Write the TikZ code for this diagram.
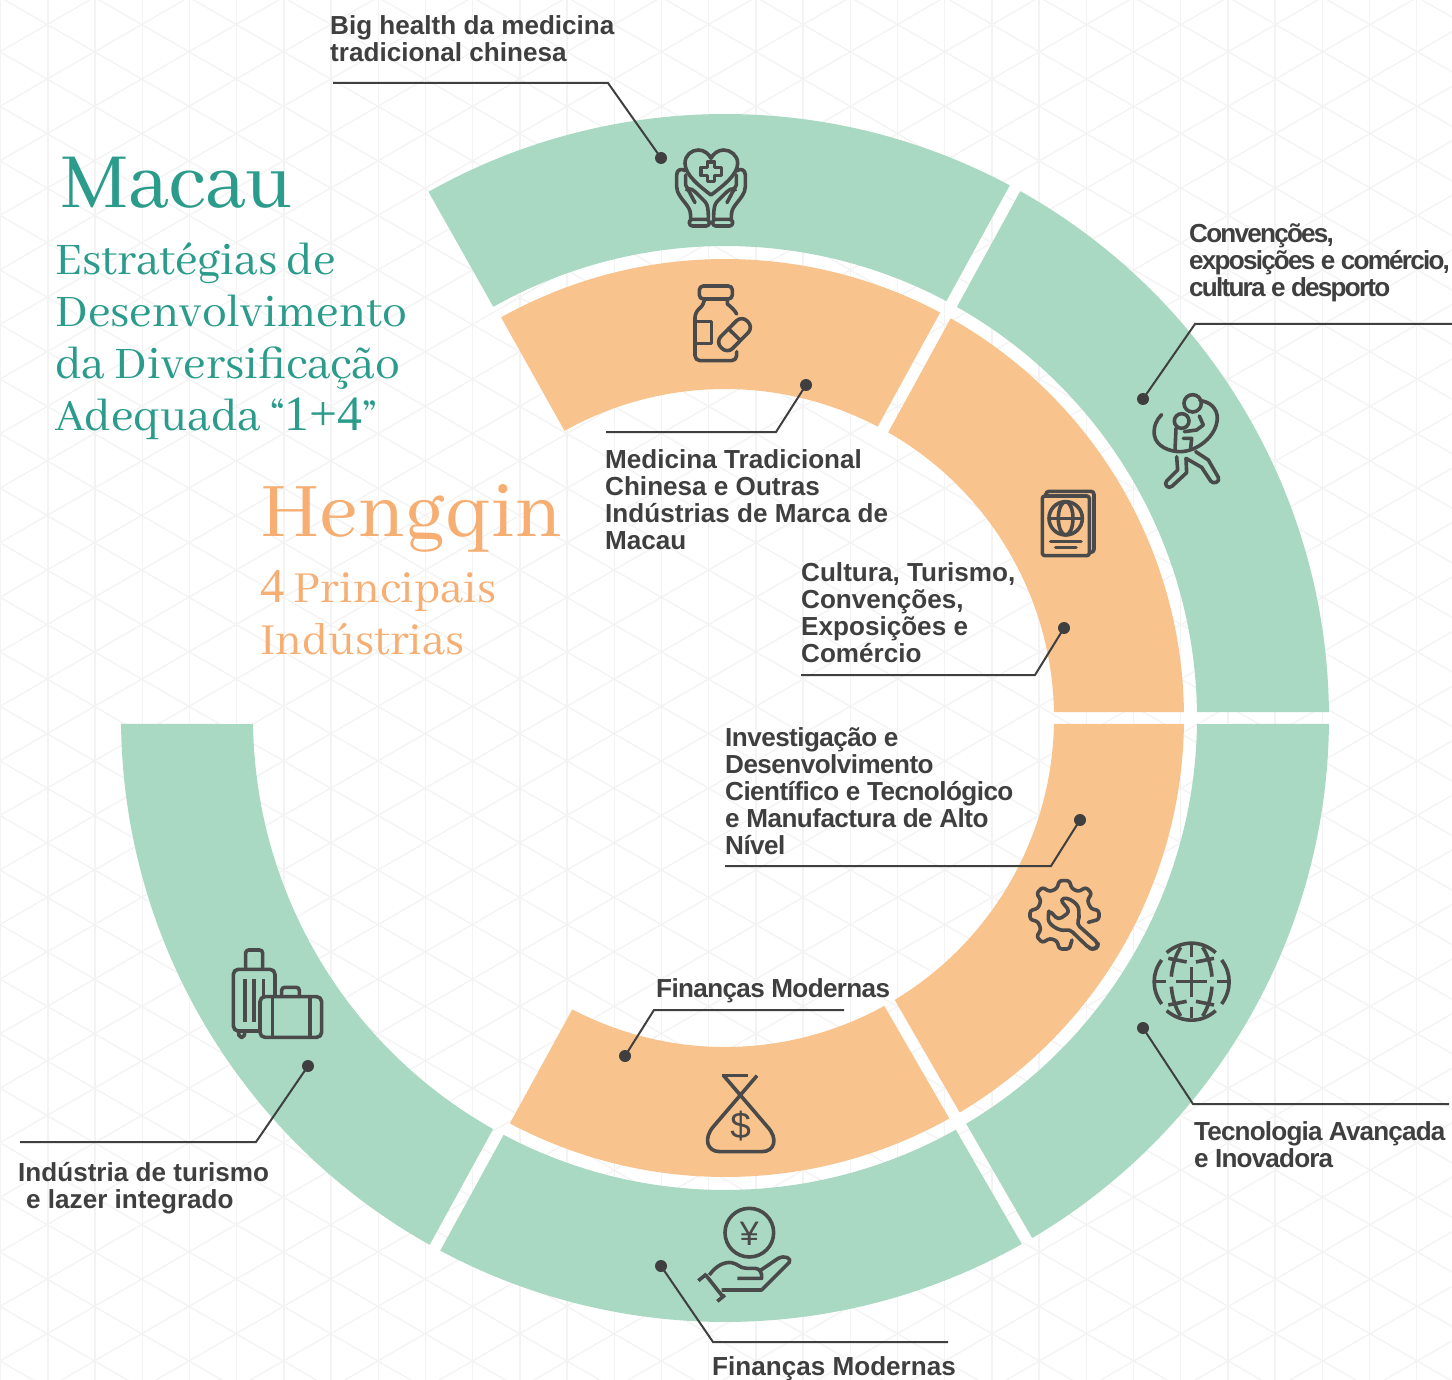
\documentclass[tikz,border=0pt]{standalone}
\usepackage{fontspec}
\setmainfont{Liberation Sans}
\newfontfamily\headfont{Abhaya Libre}
\newfontfamily\digitfont{Liberation Serif}
\usetikzlibrary{calc}
\definecolor{ringgreen}{HTML}{A9D9C3}
\definecolor{ringorange}{HTML}{F9C38D}
\definecolor{inkdark}{HTML}{3F3F3F}
\definecolor{iconink}{HTML}{4A4A4A}
\definecolor{gridgrey}{HTML}{F3F3F3}
\definecolor{macauteal}{HTML}{2B9C8C}
\definecolor{hengorange}{HTML}{F6AE72}
\newcommand{\ringseg}[7]{%
  \pgfmathsetmacro{\asO}{#4+asin(#5/#2)}%
  \pgfmathsetmacro{\aeO}{#6-asin(#7/#2)}%
  \pgfmathsetmacro{\asI}{#4+asin(#5/#3)}%
  \pgfmathsetmacro{\aeI}{#6-asin(#7/#3)}%
  \fill[#1] ([shift={(-\asO:#2)}]725,718) arc[start angle=-\asO,end angle=-\aeO,radius=#2]
    -- ([shift={(-\aeI:#3)}]725,718) arc[start angle=-\aeI,end angle=-\asI,radius=#3] -- cycle;%
}
\newcommand{\tightA}{\addfontfeature{LetterSpace=-6.8}}
\newcommand{\tightB}{\addfontfeature{LetterSpace=-2.1}}
\newcommand{\tightC}{\addfontfeature{LetterSpace=-2.5}}
\newcommand{\tightD}{\addfontfeature{LetterSpace=-3.2}}
\tikzset{
  lbl/.style={anchor=north west,align=left,text=inkdark,inner sep=0pt,font=\bfseries\fontsize{26.1}{27}\selectfont},
  leader/.style={draw=inkdark,line width=2pt},
  dotmark/.style={circle,fill=inkdark,inner sep=0pt,minimum size=12pt},
  icon/.style={draw=iconink,line width=3.6pt,line join=round,line cap=round},
  macauhead/.style={anchor=north west,align=left,inner sep=0pt,text=macauteal},
  henghead/.style={anchor=north west,align=left,inner sep=0pt,text=hengorange}
}
\begin{document}
\begin{tikzpicture}[x=1pt,y=1pt,yscale=-1]
\useasboundingbox (0,0) rectangle (1452,1380);
\fill[white] (0,0) rectangle (1452,1380);
% background grid
\begin{scope}
\clip (0,0) rectangle (1452,1380);
\foreach \k in {0,...,30} { \draw[gridgrey,line width=1.3pt] ({0.7+47.2*\k},0) -- ({0.7+47.2*\k},1380); }
\foreach \k in {-16,...,26} {
  \draw[gridgrey,line width=1.3pt] (0,{-2.75+54.55*\k}) -- (1452,{-2.75+54.55*\k+838.3});
  \draw[gridgrey,line width=1.3pt] (0,{51.75+54.55*(\k+16)}) -- (1452,{51.75+54.55*(\k+16)-838.3});
}
\end{scope}
% rings
\ringseg{ringgreen}{604}{472}{61.3}{6}{119.4}{0}
\ringseg{ringgreen}{604}{472}{0}{6}{61.3}{6}
\ringseg{ringgreen}{604}{472}{-60}{6}{0}{6}
\ringseg{ringgreen}{604}{472}{-118.7}{6}{-60}{6}
\ringseg{ringgreen}{604}{472}{180}{6}{241.3}{6}
\ringseg{ringorange}{459}{329}{61.3}{6}{119.2}{0}
\ringseg{ringorange}{459}{329}{0}{6}{61.3}{6}
\ringseg{ringorange}{459}{329}{-60}{6}{0}{6}
\ringseg{ringorange}{459}{329}{-118.7}{6}{-60}{6}
% titles
\node[macauhead,font=\headfont\fontsize{86}{86}\selectfont] (tmacau) at (60,157) {Macau};
\node[macauhead,font=\headfont\fontsize{49.5}{52}\selectfont] (tmacaub) at (55,243) {Estratégias de\\Desenvolvimento\\da Diversificação\\Adequada “{\digitfont 1+4}”};
\node[henghead,font=\headfont\fontsize{85}{85}\selectfont] (theng) at (260,484) {Hengqin};
\node[henghead,font=\headfont\fontsize{48.7}{52}\selectfont] (thengb) at (260,570) {{\digitfont 4} Principais\\Indústrias};
% labels
\node[lbl] (l1) at (330,15) {Big health da medicina\\tradicional chinesa};
\node[lbl] (l2) at (1189,223) {\tightA Convenções,\\\tightA exposições e comércio,\\\tightA cultura e desporto};
\node[lbl] (l3) at (605,449) {Medicina Tradicional\\Chinesa e Outras\\Indústrias de Marca de\\Macau};
\node[lbl] (l4) at (801,562) {Cultura, Turismo,\\Convenções,\\Exposições e\\Comércio};
\node[lbl] (l5) at (725,727) {\tightB Investigação e\\\tightB Desenvolvimento\\\tightB Científico e Tecnológico\\\tightB e Manufactura de Alto\\\tightB Nível};
\node[lbl] (l6) at (656,978) {\tightC Finanças Modernas};
\node[lbl] (l7) at (1194,1121) {\tightD Tecnologia Avançada\\\tightD e Inovadora};
\node[lbl] (l8) at (712,1356) {Finanças Modernas};
\node[lbl] (l9) at (18,1162) {Indústria de turismo\\\hspace*{8pt}e lazer integrado};
% leaders
\node[dotmark] (d1) at (661,158) {};
\node[dotmark] (d2) at (1143,399) {};
\node[dotmark] (d3) at (806,385) {};
\node[dotmark] (d4) at (1064,628) {};
\node[dotmark] (d5) at (1080,820) {};
\node[dotmark] (d6) at (625,1056) {};
\node[dotmark] (d7) at (1143,1028) {};
\node[dotmark] (d8) at (661,1266) {};
\node[dotmark] (d9) at (308,1066) {};
\coordinate (e1) at (333,83);   \coordinate (b1) at (608,83);
\coordinate (e2) at (1452,324); \coordinate (b2) at (1195,324);
\coordinate (e3) at (606,432);  \coordinate (b3) at (776,432);
\coordinate (e4) at (801,675);  \coordinate (b4) at (1035,675);
\coordinate (e5) at (725,866);  \coordinate (b5) at (1051,866);
\coordinate (e6) at (844,1010); \coordinate (b6) at (654,1010);
\coordinate (e7) at (1449,1104);\coordinate (b7) at (1193,1104);
\coordinate (e8) at (948,1342); \coordinate (b8) at (713,1342);
\coordinate (e9) at (20,1142);  \coordinate (b9) at (256,1142);
\foreach \i in {1,...,9} { \draw[leader] (e\i) -- (b\i) -- (d\i.center); }
% icon: hands and heart
\begin{scope}[shift={(640,130)},scale=0.3333,icon]
\draw (213,195) .. controls (180,170) and (135,135) .. (135,100) .. controls (135,75) and (155,60) .. (175,60) .. controls (192,60) and (207,72) .. (213,85) .. controls (219,72) and (234,60) .. (251,60) .. controls (271,60) and (293,75) .. (293,100) .. controls (293,135) and (246,170) .. (213,195);
\draw (202,96) -- (224,96) -- (224,113) -- (245,113) -- (245,136) -- (224,136) -- (224,154) -- (202,154) -- (202,136) -- (183,136) -- (183,113) -- (202,113) -- cycle;
\foreach \m/\o in {1/0,-1/426} {
\begin{scope}[shift={(\o,0)},xscale=\m]
\draw (135,122) .. controls (125,115) and (110,118) .. (110,135) -- (110,170) .. controls (110,190) and (125,205) .. (140,225) .. controls (150,238) and (152,245) .. (152,265);
\draw (137,135) -- (137,165) -- (165,218);
\draw (140,180) .. controls (150,172) and (160,180) .. (170,190) -- (195,215) .. controls (203,225) and (205,235) .. (205,265);
\draw[rounded corners=3pt] (148,268) -- (208,268) -- (208,288) -- (148,288) -- cycle;
\end{scope}
}
\end{scope}
% icon: bottle
\begin{scope}[shift={(640,130)},scale=0.3333,icon]
\draw[rounded corners=4pt] (178,507) -- (178,468) -- (277,468) -- (277,507) -- cycle;
\draw[rounded corners=5pt] (193,507) -- (193,522) -- (165,548) -- (165,692) -- (290,692) -- (290,665);
\draw (262,507) -- (262,522) .. controls (275,532) and (285,542) .. (290,552);
\draw (165,575) -- (215,575) -- (215,640) -- (165,640);
\draw[rounded corners=7.5pt] (262,671.4) -- (340.4,592) -- (305,556.6) -- (226.6,636) -- cycle;
\draw (265,596) -- (302,632);
\end{scope}
% icon: passport
\begin{scope}[shift={(1020,380)},scale=0.3333,icon]
\draw[rounded corners=2.5pt] (67,348) -- (208,348) -- (208,527) -- (67,527) -- cycle;
\draw[rounded corners=3pt] (78,340) -- (78,334) -- (222,334) -- (222,517) -- (210,517);
\draw (137,415) circle (50);
\draw (137,415) ellipse (22 and 50);
\draw (87,415) -- (187,415);
\draw (92,484) -- (183,484);
\draw (107,503) -- (168,503);
\end{scope}
% icon: gymnasts
\begin{scope}[shift={(1020,380)},scale=0.3333,icon]
\draw (485,123) circle (22);
\draw (425,104) .. controls (410,118) and (400,140) .. (403,165) .. controls (408,200) and (450,215) .. (480,215) .. controls (530,215) and (590,170) .. (592,115) .. controls (592,85) and (570,65) .. (540,62);
\draw (518,70) ellipse (26 and 26);
\draw (468,145) -- (465,212);
\draw (493,155) -- (530,150) -- (550,135) -- (538,108);
\draw (490,175) -- (515,175) -- (512,205);
\draw (470,230) -- (473,270) -- (440,303) .. controls (430,313) and (445,330) .. (457,318) -- (500,278) -- (498,235) -- (545,262) -- (572,303) .. controls (580,315) and (602,305) .. (595,292) -- (565,240) -- (527,215);
\end{scope}
% icon: gear and wrench
\begin{scope}[shift={(1010,860)},scale=0.3333,icon]
\draw[rounded corners=2.5pt] (235,187) -- (267,178) -- (267,152) -- (243,146) -- (232,122) -- (245,100) -- (228,82) -- (205,95) -- (185,85) -- (178,62) -- (148,62) -- (141,85) -- (120,95) -- (97,82) -- (80,100) -- (93,122) -- (84,145) -- (60,152) -- (60,178) -- (84,185) -- (93,208) -- (80,230) -- (97,248) -- (120,235) -- (141,243) -- (148,267) -- (178,267) -- (186,240);
\draw[rounded corners=4pt] (150,118) .. controls (175,112) and (205,130) .. (207,160) .. controls (207,175) and (203,185) .. (200,192) -- (265,250) -- (262,262) -- (250,268) -- (238,265) -- (178,207) .. controls (150,215) and (115,195) .. (115,165) -- (117,150) -- (145,180) -- (180,155) -- cycle;
\end{scope}
% icon: globe
\begin{scope}[shift={(1010,860)},scale=0.3333,icon,line cap=butt]
\draw (470,278) .. controls (515,240) and (575,240) .. (617,278);
\draw (470,452) .. controls (515,490) and (575,490) .. (617,452);
\draw (455,300) .. controls (425,340) and (425,390) .. (455,432);
\draw (635,300) .. controls (665,340) and (665,390) .. (635,432);
\draw (475,295) -- (530,306);
\draw (558,306) -- (612,295);
\draw (475,435) -- (530,424);
\draw (558,424) -- (612,435);
\draw (435,365) -- (468,365);
\draw (498,365) -- (592,365);
\draw (622,365) -- (655,365);
\draw (545,255) -- (545,292);
\draw (545,320) -- (545,410);
\draw (545,440) -- (545,475);
\draw (512,262) .. controls (497,285) and (487,315) .. (484,350);
\draw (578,262) .. controls (593,285) and (603,315) .. (606,350);
\draw (484,380) .. controls (487,415) and (497,445) .. (512,468);
\draw (606,380) .. controls (603,415) and (593,445) .. (578,468);
\end{scope}
% icon: money bag
\begin{scope}[shift={(680,1060)},scale=0.3333,icon,line cap=butt]
\draw (125,47) -- (205,47);
\draw (131,47) -- (262,200) .. controls (295,235) and (285,275) .. (245,275) -- (120,275) .. controls (80,275) and (70,235) .. (100,200) -- (231,47);
\node[inner sep=0pt,text=iconink,font=\fontsize{37}{37}\selectfont] (dollar) at (182,197) {\$};
\end{scope}
% icon: coin and hand
\begin{scope}[shift={(680,1060)},scale=0.3333,icon,line cap=butt]
\draw (208,518) circle (73);
\node[inner sep=0pt,text=iconink,font=\fontsize{34}{34}\selectfont] (yen) at (208,520) {¥};
\draw (55,662) -- (80,642);
\draw (77,645) -- (127,708);
\draw (112,724) -- (135,705);
\draw (88,645) .. controls (110,615) and (135,605) .. (155,608) .. controls (175,612) and (180,625) .. (200,625) -- (225,625) .. controls (240,625) and (247,640) .. (245,655) -- (172,655);
\draw (240,632) -- (295,595) .. controls (315,585) and (335,595) .. (328,607) -- (245,690) -- (125,690);
\end{scope}
% icon: luggage
\begin{scope}[shift={(210,930)},scale=0.3333,icon,line cap=butt]
\draw[rounded corners=5pt] (195,200) -- (195,118) -- (70,118) -- (70,303) -- (150,303);
\draw[rounded corners=3pt] (107,118) -- (107,60) -- (158,60) -- (158,118);
\draw (105,148) -- (105,275);
\draw (132,148) -- (132,275);
\draw (160,148) -- (160,200);
\draw[rounded corners=2pt] (85,303) -- (88,322) -- (102,322) -- (105,303);
\draw[rounded corners=5pt] (150,200) -- (335,200) -- (335,322) -- (150,322) -- cycle;
\draw (187,200) -- (187,322);
\draw (300,200) -- (300,322);
\draw[rounded corners=3pt] (215,198) -- (215,172) -- (268,172) -- (268,198);
\end{scope}
\end{tikzpicture}
\end{document}
